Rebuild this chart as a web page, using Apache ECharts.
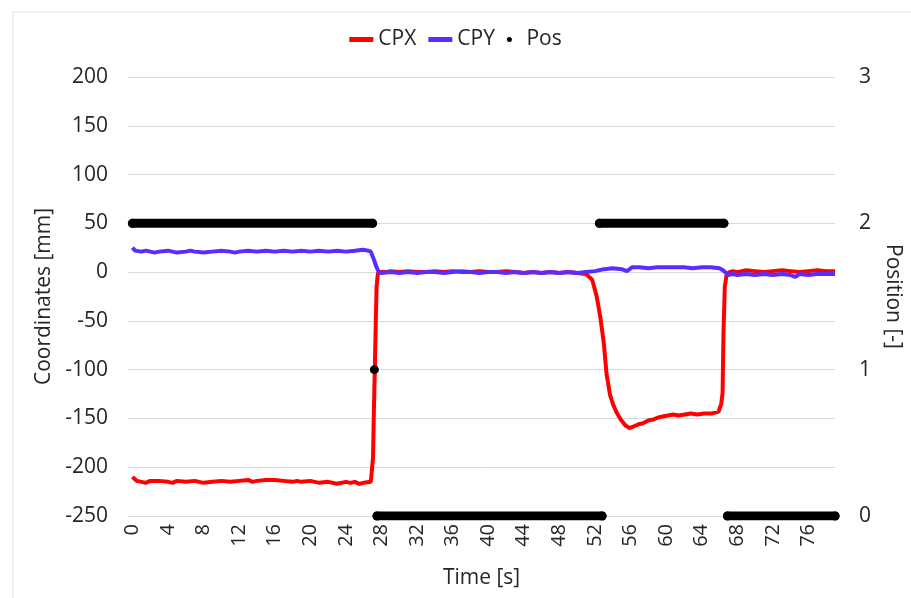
<!DOCTYPE html>
<html>
<head>
<meta charset="utf-8">
<script src="https://cdn.jsdelivr.net/npm/echarts@6/dist/echarts.min.js"></script>
<style>
  html, body { margin: 0; padding: 0; background: #fff; }
  #chart { width: 911px; height: 598px; }
</style>
</head>
<body>
<div id="chart"></div>
<script>
// tick labels of the time axis
const timeTicks = [0, 4, 8, 12, 16, 20, 24, 28, 32, 36, 40, 44, 48, 52, 56, 60, 64, 68, 72, 76]

// CPX [time s, mm]
const cpx = [
  [0, -210], [0.5, -214], [1, -215], [1.5, -216], [2, -214], [3, -214], [4, -215], [4.5, -216],
  [5, -214], [6, -215], [7, -214], [8, -216], [9, -215], [10, -214], [11, -215], [12, -214],
  [13, -213], [13.5, -215], [14, -214], [15, -213], [16, -213], [17, -214], [18, -215], [18.5, -214],
  [19, -215], [20, -214], [21, -216], [22, -215], [23, -217], [24, -215], [24.5, -216], [25, -215],
  [25.5, -217], [26, -216], [26.8, -215], [26.95, -214], [27.05, -190], [27.15, -140], [27.25, -100],
  [27.35, -55], [27.45, -15], [27.6, -1], [27.9, 0], [28.5, 0], [29, 1], [30, 0], [31, 1], [32, 0],
  [33, 0], [34, 1], [35, 0], [36, 1], [37, 0], [38, 0], [39, 1], [40, 0], [41, 0], [42, 1], [43, 0],
  [44, -1], [45, 0], [46, -1], [47, 0], [48, -1], [49, 0], [50, -1], [51, -2], [51.7, -8],
  [52.2, -25], [52.6, -46], [53, -73], [53.3, -104], [53.7, -126], [54.1, -137], [54.5, -145],
  [54.9, -151], [55.4, -157], [55.9, -160], [56.4, -158], [56.9, -156], [57.4, -155], [58, -152],
  [58.6, -151], [59.1, -149], [59.6, -148], [60.2, -147], [60.8, -146], [61.4, -147], [62.1, -146],
  [62.8, -145], [63.5, -146], [64.3, -145], [65.1, -145], [65.9, -143], [66.2, -135], [66.35, -124],
  [66.45, -63], [66.6, -15], [66.8, -3], [67.1, 0], [67.5, 1], [68, 0], [69, 2], [70, 1], [71, 0],
  [72, 1], [73, 2], [74, 1], [75, 0], [76, 1], [77, 2], [78, 1], [79, 1]
]

// CPY [time s, mm]
const cpy = [
  [0, 25], [0.3, 22], [1, 21], [1.5, 22], [2, 21], [2.5, 20], [3, 21], [4, 22], [4.5, 21], [5, 20],
  [6, 21], [6.5, 22], [7, 21], [8, 20], [9, 21], [10, 22], [11, 21], [11.5, 20], [12, 21], [13, 22],
  [14, 21], [15, 22], [16, 21], [17, 22], [18, 21], [19, 22], [20, 21], [21, 22], [22, 21], [23, 22],
  [24, 21], [25, 22], [25.9, 23], [26.5, 22], [26.8, 21], [27.1, 14], [27.4, 6], [27.7, 0], [28, -1],
  [29, 0], [30, -1], [31, 0], [32, -1], [33, 0], [34, 0], [35, -1], [36, 0], [37, 1], [38, 0],
  [39, -1], [40, 0], [41, 0], [42, -1], [43, 0], [44, -1], [45, 0], [46, -1], [47, 0], [48, -1],
  [49, 0], [50, -1], [51, 0], [52, 1], [52.5, 2], [53, 3], [54, 4], [55, 3], [55.6, 1], [56.2, 5],
  [57, 5], [58, 4], [59, 5], [60, 5], [61, 5], [62, 5], [63, 4], [64, 5], [65, 5], [66, 4],
  [66.4, 2], [67, -3], [67.5, -2], [68, -3], [69, -2], [70, -3], [71, -2], [72, -3], [73, -2],
  [74, -3], [74.5, -5], [75, -2], [76, -3], [77, -2], [78, -2], [79, -2]
]

// Pos runs [from s, to s, position]
const posRuns = [
  [0, 27.0, 2],
  [27.2, 27.2, 1],
  [27.5, 52.8, 0],
  [52.5, 66.5, 2],
  [66.9, 79, 0]
]

const posData = []
posRuns.forEach(function (r) {
  posData.push([r[0], r[2]])
  if (r[1] !== r[0]) posData.push([r[1], r[2]])
  posData.push([r[1], '-'])
})

const font = '"Open Sans", "Noto Sans", sans-serif'
const txt = '#262626'

let chart = echarts.init(document.getElementById('chart'))
chart.setOption({
  animation: false,
  backgroundColor: '#fff',
  graphic: [{
    type: 'rect',
    shape: { x: 13, y: 12, width: 1000, height: 700 },
    style: { fill: 'none', stroke: '#e3e3e3', lineWidth: 1 },
    silent: true
  }],
  legend: {
    top: 24,
    left: 'center',
    itemWidth: 24,
    itemHeight: 5,
    itemGap: 12,
    textStyle: { fontFamily: font, fontSize: 21, color: txt },
    data: [
      { name: 'CPX', icon: 'rect' },
      { name: 'CPY', icon: 'rect' },
      { name: 'Pos', icon: 'circle' }
    ]
  },
  grid: { left: 128, right: 73, top: 77, bottom: 82, containLabel: false },
  xAxis: {
    type: 'value',
    min: -0.5,
    max: 79,
    name: 'Time [s]',
    nameLocation: 'middle',
    nameGap: 52,
    nameTextStyle: { fontFamily: font, fontSize: 21, color: txt },
    axisLine: { show: false },
    axisTick: { show: false },
    splitLine: { show: false },
    axisLabel: {
      customValues: timeTicks,
      rotate: 90,
      margin: 8,
      fontFamily: font,
      fontSize: 20,
      color: txt
    }
  },
  yAxis: [{
    type: 'value',
    min: -250,
    max: 200,
    interval: 50,
    name: 'Coordinates [mm]',
    nameLocation: 'middle',
    nameRotate: 90,
    nameGap: 67,
    nameTextStyle: { fontFamily: font, fontSize: 21, color: txt },
    axisLine: { show: false },
    axisTick: { show: false },
    splitLine: { lineStyle: { color: '#d9d9d9', width: 1 } },
    axisLabel: { margin: 20, fontFamily: font, fontSize: 21, color: txt }
  }, {
    type: 'value',
    position: 'right',
    min: 0,
    max: 3,
    interval: 1,
    name: 'Position [-]',
    nameLocation: 'middle',
    nameRotate: -90,
    nameGap: 36,
    nameTextStyle: { fontFamily: font, fontSize: 21, color: txt },
    axisLine: { show: false },
    axisTick: { show: false },
    splitLine: { show: false },
    axisLabel: { margin: 24, fontFamily: font, fontSize: 21, color: txt }
  }],
  series: [{
    name: 'CPX',
    type: 'line',
    data: cpx,
    symbol: 'none',
    color: '#ff0000',
    lineStyle: { width: 4, color: '#ff0000' }
  }, {
    name: 'CPY',
    type: 'line',
    data: cpy,
    symbol: 'none',
    color: '#5a2dff',
    lineStyle: { width: 4, color: '#5a2dff' }
  }, {
    name: 'Pos',
    type: 'line',
    yAxisIndex: 1,
    data: posData,
    connectNulls: false,
    symbol: 'circle',
    symbolSize: 9,
    showSymbol: true,
    color: '#000',
    itemStyle: { color: '#000' },
    lineStyle: { width: 9, color: '#000', cap: 'round' }
  }]
})
window.addEventListener('resize', function () { chart.resize() })
</script>
</body>
</html>
